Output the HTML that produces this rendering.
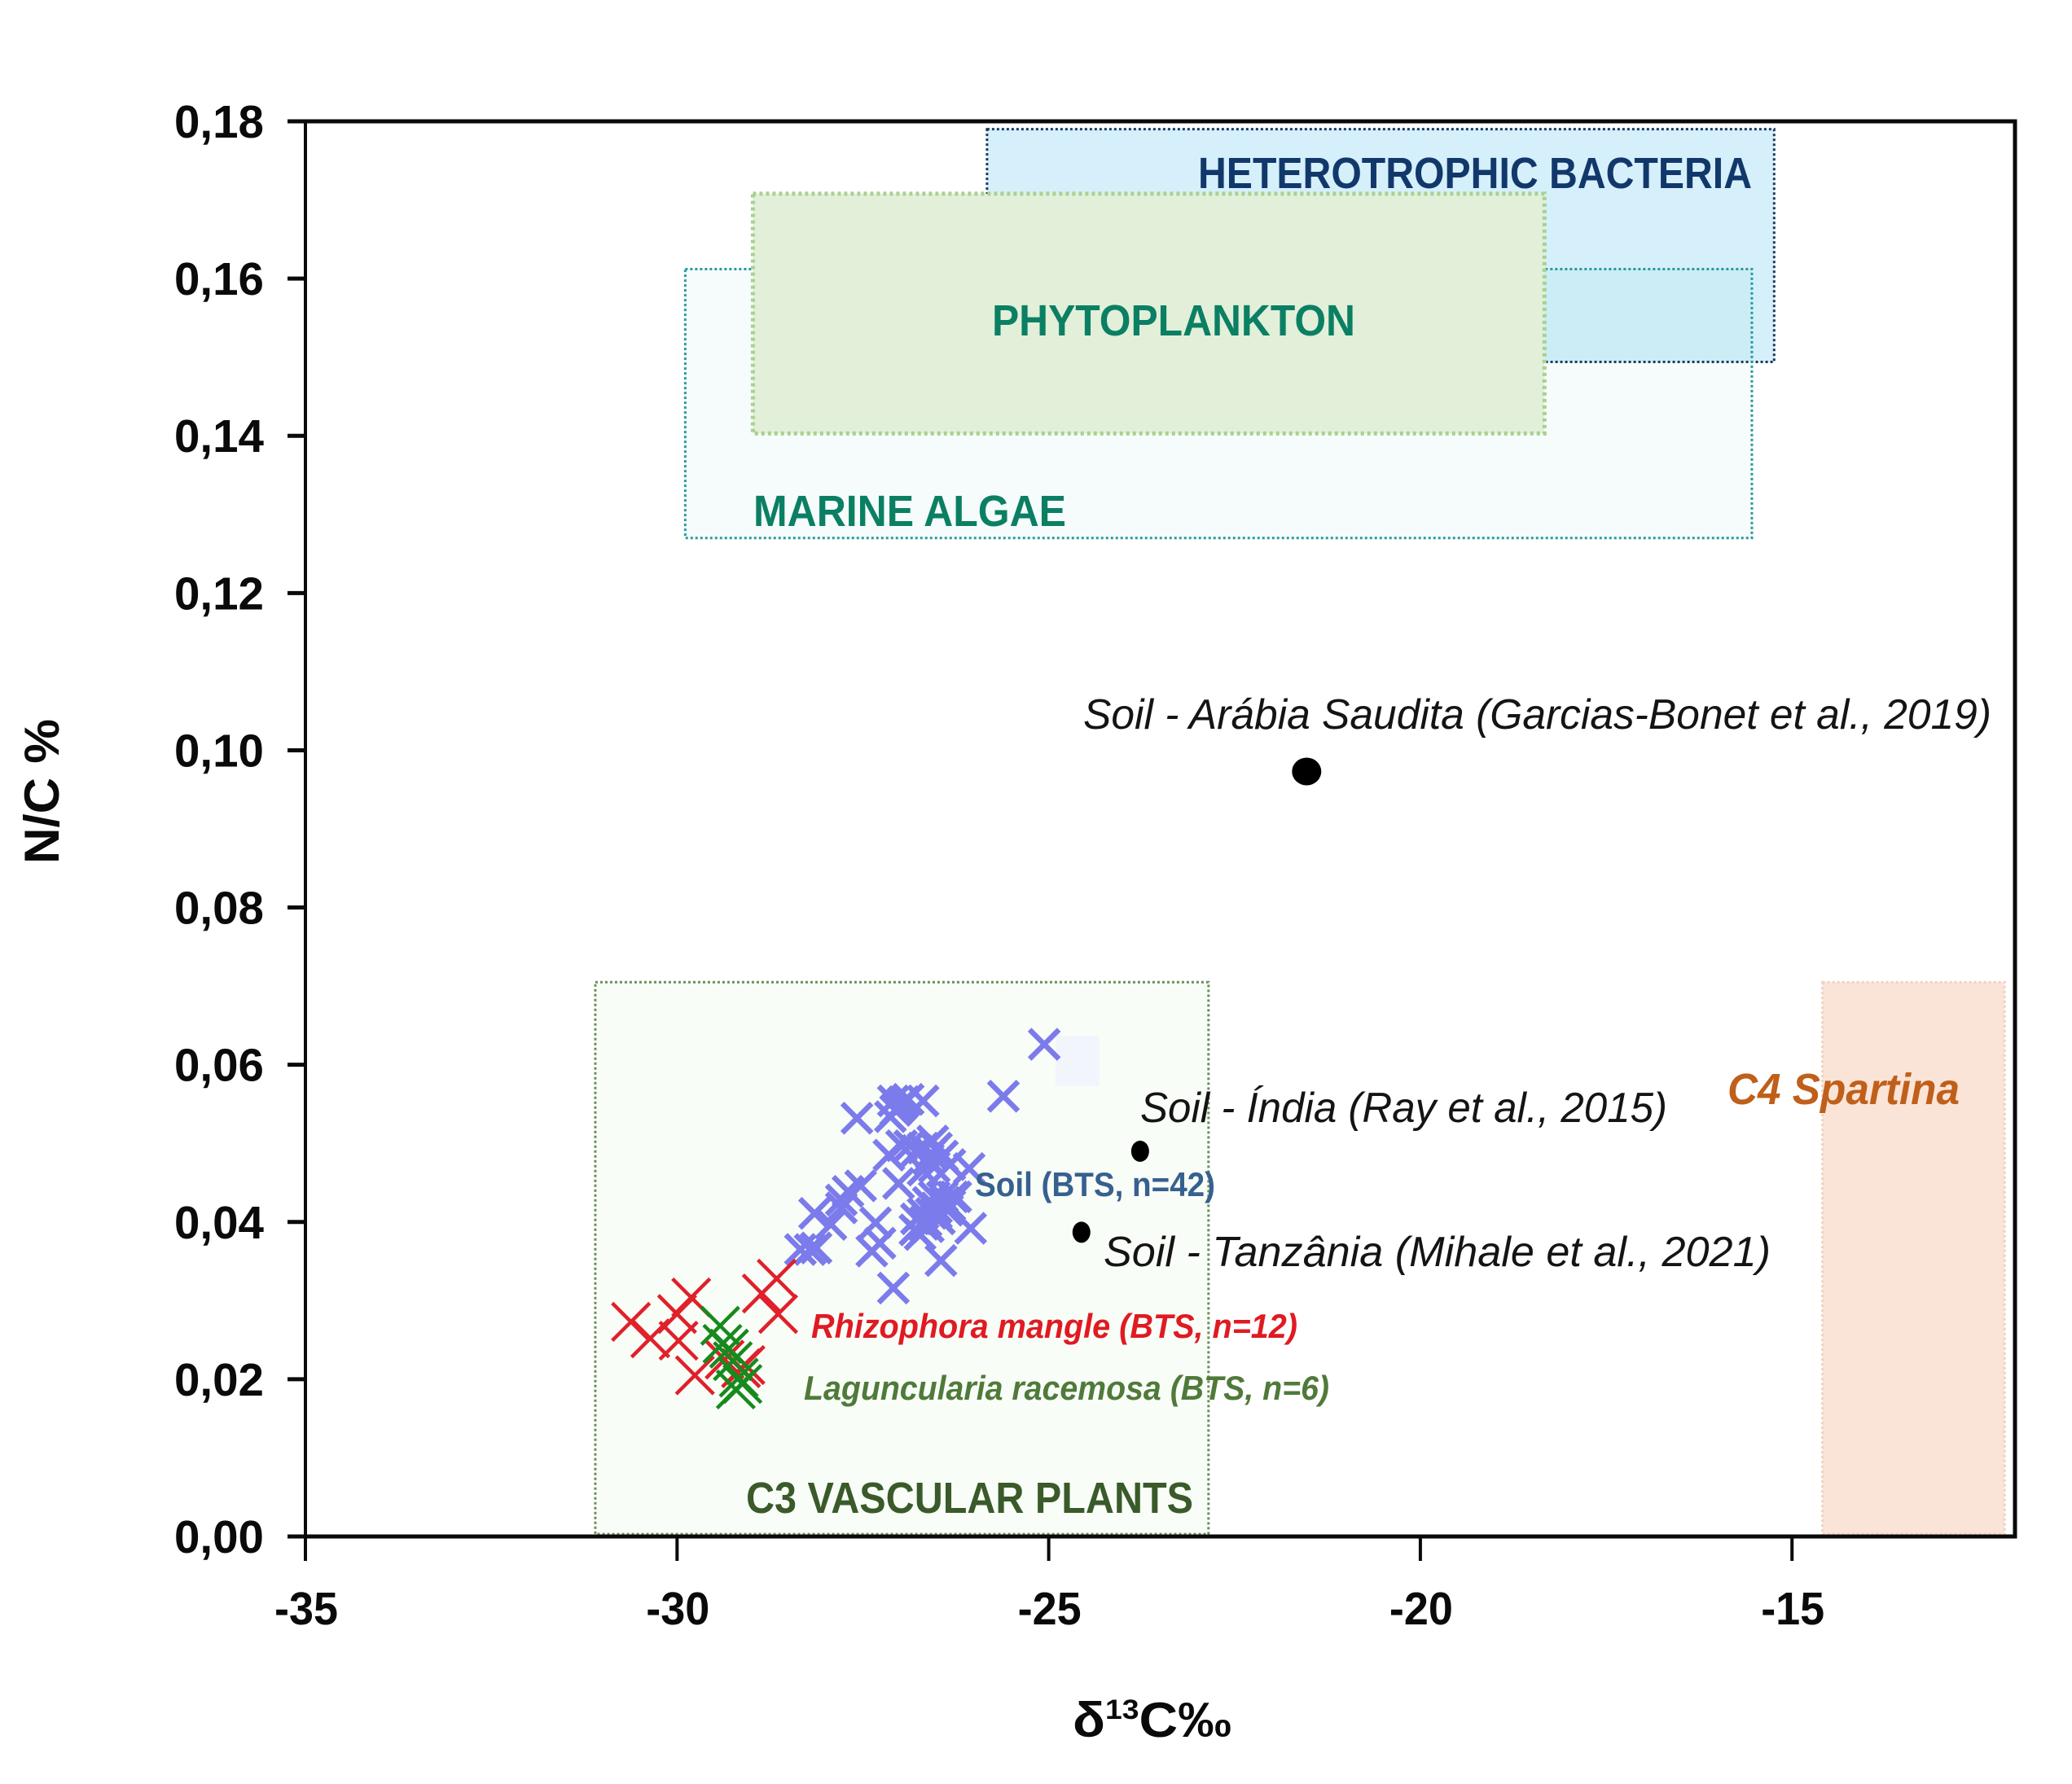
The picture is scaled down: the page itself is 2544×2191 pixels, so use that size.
<!DOCTYPE html>
<html lang="en">
<head>
<meta charset="utf-8">
<title>N/C versus δ13C scatter chart</title>
<style>
  html, body { margin: 0; padding: 0; background: #fff; }
  svg { display: block; }
  text { font-family: "Liberation Sans", "DejaVu Sans", sans-serif; }
  .tick-label { font-weight: 700; font-size: 57px; fill: #0a0a0a; }
  .axis-title { font-weight: 700; font-size: 60px; fill: #0a0a0a; }
  .group-label { font-weight: 700; font-size: 54px; }
  .ref-label { font-style: italic; font-size: 52px; fill: #141414; }
  .series-label { font-weight: 700; font-size: 42px; }
</style>
</head>
<body>
<svg id="chart" xmlns="http://www.w3.org/2000/svg" width="2544" height="2191" viewBox="0 0 2544 2191">
  <rect x="0" y="0" width="2544" height="2191" fill="#ffffff"/>
  <g id="regions"></g>
  <g id="region-labels">
    <text class="group-label" x="1471" y="231" fill="#12386b" textLength="680" lengthAdjust="spacingAndGlyphs">HETEROTROPHIC BACTERIA</text>
    <text class="group-label" x="1218" y="412" fill="#0b7f63" textLength="446" lengthAdjust="spacingAndGlyphs">PHYTOPLANKTON</text>
    <text class="group-label" x="925" y="646" fill="#0b7f63" textLength="384" lengthAdjust="spacingAndGlyphs">MARINE ALGAE</text>
    <text class="group-label" x="916" y="1858" fill="#3a5a2a" textLength="549" lengthAdjust="spacingAndGlyphs">C3 VASCULAR PLANTS</text>
    <text class="group-label" x="2121" y="1356" fill="#c05f1a" font-style="italic" textLength="285" lengthAdjust="spacingAndGlyphs">C4 Spartina</text>
  </g>
  <g id="marks"></g>
  <g id="axes"></g>
  <g id="annotations">
    <text class="ref-label" x="1330" y="895" textLength="1115" lengthAdjust="spacingAndGlyphs">Soil - Arábia Saudita (Garcias-Bonet et al., 2019)</text>
    <text class="ref-label" x="1400" y="1378" textLength="647" lengthAdjust="spacingAndGlyphs">Soil - Índia (Ray et al., 2015)</text>
    <text class="ref-label" x="1355" y="1555" textLength="819" lengthAdjust="spacingAndGlyphs">Soil - Tanzânia (Mihale et al., 2021)</text>
    <text class="series-label" x="1197" y="1469" fill="#36608f" textLength="295" lengthAdjust="spacingAndGlyphs">Soil (BTS, n=42)</text>
    <text class="series-label" x="996" y="1643" fill="#e01a22" font-style="italic" textLength="597" lengthAdjust="spacingAndGlyphs">Rhizophora mangle (BTS, n=12)</text>
    <text class="series-label" x="987" y="1719" fill="#4f7a3a" font-style="italic" textLength="645" lengthAdjust="spacingAndGlyphs">Laguncularia racemosa (BTS, n=6)</text>
  </g>
  <text class="axis-title" transform="translate(72 972) rotate(-90)" text-anchor="middle" textLength="178" lengthAdjust="spacingAndGlyphs">N/C %</text>
  <text class="axis-title" x="1317" y="2133" textLength="195" lengthAdjust="spacingAndGlyphs">δ<tspan font-size="34" dy="-22">13</tspan><tspan dy="22">C‰</tspan></text>
</svg>
<script>
// Axis ticks and labels
const xTickValues = [-35, -30, -25, -20, -15];
const xTickLabels = ['-35', '-30', '-25', '-20', '-15'];
const yTickValues = [0, 0.02, 0.04, 0.06, 0.08, 0.10, 0.12, 0.14, 0.16, 0.18];
const yTickLabels = ['0,00', '0,02', '0,04', '0,06', '0,08', '0,10', '0,12', '0,14', '0,16', '0,18'];
const xDomain = [-35, -12];
const yDomain = [0, 0.18];

// Soil (BTS)
const soilX = [-25.06, -25.61, -27.58, -27.09, -26.89, -26.69, -27.06, -27.13, -26.99, -27.02, -26.95, -26.56, -27.15, -26.98, -26.77, -26.58, -26.43, -26.54, -26.07, -27.02, -26.69, -26.33, -26.69, -26.51, -26.62, -26.87, -26.40, -26.51, -26.58, -26.69, -26.73, -26.47, -26.33, -26.78, -26.05, -26.45, -27.09, -26.25, -26.62, -26.54, -26.43, -26.58, -26.69, -26.65, -26.51, -26.62, -26.29, -26.36, -26.80, -27.70, -27.53, -27.79, -27.93, -27.79, -27.33, -27.27, -27.38, -28.15, -28.13, -28.34, -28.21];
const soilY = [0.0626, 0.0560, 0.0532, 0.0554, 0.0556, 0.0554, 0.0542, 0.0534, 0.0549, 0.0546, 0.0553, 0.0503, 0.0485, 0.0497, 0.0491, 0.0487, 0.0484, 0.0470, 0.0468, 0.0449, 0.0466, 0.0473, 0.0494, 0.0494, 0.0480, 0.0497, 0.0425, 0.0418, 0.0411, 0.0397, 0.0384, 0.0404, 0.0421, 0.0404, 0.0392, 0.0351, 0.0316, 0.0432, 0.0425, 0.0432, 0.0432, 0.0421, 0.0411, 0.0401, 0.0411, 0.0394, 0.0432, 0.0415, 0.0390, 0.0439, 0.0446, 0.0428, 0.0397, 0.0418, 0.0399, 0.0373, 0.0363, 0.0411, 0.0367, 0.0365, 0.0365];

// Rhizophora mangle (BTS)
const rhizophoraX = [-30.62, -30.36, -29.81, -30.00, -29.98, -29.76, -28.66, -28.86, -28.64, -29.36, -29.14, -29.08];
const rhizophoraY = [0.0273, 0.0252, 0.0304, 0.0283, 0.0249, 0.0205, 0.0328, 0.0309, 0.0283, 0.0225, 0.0214, 0.0218];

// Laguncularia racemosa (BTS)
const lagunculariaX = [-29.42, -29.39, -29.30, -29.25, -29.21, -29.17, -29.12];
const lagunculariaY = [0.0268, 0.0245, 0.0239, 0.0223, 0.0187, 0.0202, 0.0194];

// Literature soil points: Saudi Arabia, India, Tanzania
const literatureX = [-21.53, -23.77, -24.56];
const literatureY = [0.0973, 0.0490, 0.0387];
const literatureNames = ['soil-saudi-arabia-point', 'soil-india-point', 'soil-tanzania-point'];
const literatureRadius = [18, 11, 11];

// Source regions as value ranges: bacteria, algae, phytoplankton, C3, C4, pale patch
const regionNames = ['heterotrophic-bacteria-region', 'marine-algae-region', 'phytoplankton-region', 'c3-vascular-plants-region', 'c4-spartina-region', 'pale-patch'];
const regionXMin = [-25.83, -29.89, -28.98, -31.10, -14.59, -24.91];
const regionXMax = [-15.24, -15.54, -18.33, -22.85, -12.14, -24.32];
const regionYMin = [0.1494, 0.1270, 0.1403, 0.0003, 0.0003, 0.0573];
const regionYMax = [0.1790, 0.1612, 0.1708, 0.0705, 0.0705, 0.0637];

const NS = 'http://www.w3.org/2000/svg';
const plotLeft = 375, plotRight = 2474, plotTop = 149, plotBottom = 1887;

function xScale(v) {
  return plotLeft + (v - xDomain[0]) / (xDomain[1] - xDomain[0]) * (plotRight - plotLeft);
}
function yScale(v) {
  return plotBottom - (v - yDomain[0]) / (yDomain[1] - yDomain[0]) * (plotBottom - plotTop);
}
function make(tag, attrs, parent) {
  const el = document.createElementNS(NS, tag);
  for (const k in attrs) el.setAttribute(k, attrs[k]);
  parent.appendChild(el);
  return el;
}

const regionStyles = [
  { fill: '#d5f0fa', stroke: '#173a63', sw: 3, dash: '3 3' },
  { fill: 'rgba(0,175,165,0.04)', stroke: '#2a9a9a', sw: 3, dash: '3 3' },
  { fill: '#e2efd9', stroke: '#a9d18e', sw: 5, dash: '4 4' },
  { fill: '#f9fdf7', stroke: '#6b8e5a', sw: 3, dash: '3 3' },
  { fill: '#fae4d7', stroke: '#eed3c0', sw: 3, dash: '3 3' },
  { fill: '#f2f5fc', stroke: 'none', sw: 0, dash: '' }
];
const regionsG = document.getElementById('regions');
regionNames.forEach(function (name, i) {
  const s = regionStyles[i];
  const r = make('rect', {
    x: xScale(regionXMin[i]), y: yScale(regionYMax[i]),
    width: xScale(regionXMax[i]) - xScale(regionXMin[i]),
    height: yScale(regionYMin[i]) - yScale(regionYMax[i]),
    fill: s.fill, stroke: s.stroke, 'stroke-width': s.sw, 'stroke-dasharray': s.dash
  }, regionsG);
  
  
});

const marksG = document.getElementById('marks');
function drawCross(xv, yv, half, sw, color, name) {
  const cx = xScale(xv), cy = yScale(yv);
  const p = make('path', {
    d: 'M' + (cx - half) + ' ' + (cy - half) + 'L' + (cx + half) + ' ' + (cy + half) +
       'M' + (cx - half) + ' ' + (cy + half) + 'L' + (cx + half) + ' ' + (cy - half),
    stroke: color, 'stroke-width': sw, fill: 'none'
  }, marksG);
  
  
}
soilX.forEach(function (x, i) { drawCross(x, soilY[i], 18, 6.5, '#7b7bec', 'soil-point'); });
rhizophoraX.forEach(function (x, i) { drawCross(x, rhizophoraY[i], 23, 4.5, '#e0202a', 'rhizophora-point'); });
lagunculariaX.forEach(function (x, i) { drawCross(x, lagunculariaY[i], 23, 4.5, '#178a1e', 'laguncularia-point'); });

literatureX.forEach(function (x, i) {
  const c = make('ellipse', {
    cx: xScale(x), cy: yScale(literatureY[i]),
    rx: literatureRadius[i], ry: literatureRadius[i] === 18 ? 17 : 13, fill: '#000000'
  }, marksG);
  
  
});

const axesG = document.getElementById('axes');
const frameParts = [
  ['y-axis-line', plotLeft, plotTop, plotLeft, plotBottom, 4],
  ['x-axis-line', plotLeft, plotBottom, plotRight, plotBottom, 5],
  ['top-axis-line', plotLeft, plotTop, plotRight, plotTop, 5],
  ['right-axis-line', plotRight, plotTop, plotRight, plotBottom, 5]
];
frameParts.forEach(function (f) {
  const l = make('line', { x1: f[1], y1: f[2], x2: f[3], y2: f[4], stroke: '#0a0a0a', 'stroke-width': f[5], 'stroke-linecap': 'square' }, axesG);
  
  
});

xTickValues.forEach(function (v, i) {
  const x = xScale(v);
  const t = make('line', { x1: x, y1: plotBottom, x2: x, y2: plotBottom + 30, stroke: '#0a0a0a', 'stroke-width': 4 }, axesG);
  
  
  const lab = make('text', { x: x + 1, y: 1995, 'text-anchor': 'middle', class: 'tick-label', textLength: 78, lengthAdjust: 'spacingAndGlyphs' }, axesG);
  lab.textContent = xTickLabels[i];
  
  
});

yTickValues.forEach(function (v, i) {
  const y = yScale(v);
  const t = make('line', { x1: plotLeft - 22, y1: y, x2: plotLeft, y2: y, stroke: '#0a0a0a', 'stroke-width': 5 }, axesG);
  
  
  const lab = make('text', { x: 324, y: y + 20, 'text-anchor': 'end', class: 'tick-label', textLength: 110, lengthAdjust: 'spacingAndGlyphs' }, axesG);
  lab.textContent = yTickLabels[i];
  
  
});
</script>
</body>
</html>
